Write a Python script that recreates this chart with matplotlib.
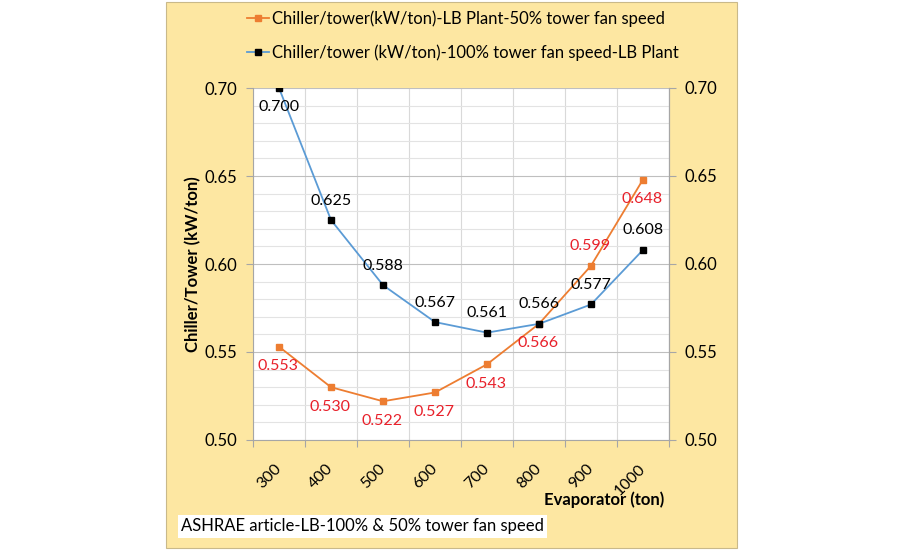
import numpy as np
import matplotlib.pyplot as plt
from matplotlib.patches import Rectangle
from matplotlib.lines import Line2D

plt.rcParams['font.family'] = ['Lato', 'DejaVu Sans']

# --- data ---
evap_tons = ['300', '400', '500', '600', '700', '800', '900', '1000']
kw_50 = [0.553, 0.530, 0.522, 0.527, 0.543, 0.566, 0.599, 0.648]
kw_100 = [0.700, 0.625, 0.588, 0.567, 0.561, 0.566, 0.577, 0.608]
name_50 = 'Chiller/tower(kW/ton)-LB Plant-50% tower fan speed'
name_100 = 'Chiller/tower (kW/ton)-100% tower fan speed-LB Plant'

orange = '#ED7D31'
blue = '#5B9BD5'
red_lbl = '#E8202A'

fig = plt.figure(figsize=(9, 5.5), dpi=100)
fig.patch.set_facecolor('white')

# yellow chart background block
fig.patches.append(Rectangle((166 / 900, 2 / 550), 571 / 900, 546 / 550,
                             transform=fig.transFigure, facecolor='#FDE7A2',
                             edgecolor='#C9B98A', linewidth=0.8, zorder=-10))

ax = fig.add_axes([253 / 900, 0.2, 416 / 900, 0.64])
ax.set_facecolor('white')
x = np.arange(len(evap_tons))

ax.plot(x, kw_50, color=orange, lw=1.3, marker='s', ms=4.5, mfc=orange, mec=orange, zorder=3)
ax.plot(x, kw_100, color=blue, lw=1.3, marker='s', ms=5, mfc='black', mec='black', zorder=3)

# orange labels sit below the points (0.599 goes above), black ones above (0.700 below)
for i, (xi, v) in enumerate(zip(x, kw_50)):
    dy = 14 if i == 6 else -14
    ax.annotate(f'{v:.3f}', (xi, v), xytext=(-1, dy), textcoords='offset points',
                ha='center', va='center', color=red_lbl, fontsize=11.5)
for i, (xi, v) in enumerate(zip(x, kw_100)):
    dy = -14 if i == 0 else 14
    ax.annotate(f'{v:.3f}', (xi, v), xytext=(0, dy), textcoords='offset points',
                ha='center', va='center', color='black', fontsize=11.5)

ax.set_xlim(-0.5, len(evap_tons) - 0.5)
ax.set_ylim(0.50, 0.70)

# x: boundary ticks for grid, centre ticks for labels
ax.set_xticks(np.arange(-0.5, len(evap_tons), 1.0))
ax.set_xticklabels([])
ax.set_xticks(x, minor=True)
ax.set_xticklabels(evap_tons, minor=True, rotation=45, ha='right', va='center',
                   rotation_mode='anchor', fontsize=11.5)
ax.tick_params(axis='x', which='major', length=5, color='#A6A6A6')
ax.tick_params(axis='x', which='minor', length=0, pad=19)

yt = [0.50, 0.55, 0.60, 0.65, 0.70]
ax.set_yticks(yt)
ax.set_yticklabels([f'{v:.2f}' for v in yt], fontsize=12)
ax.set_yticks(np.arange(0.50, 0.7001, 0.01), minor=True)
ax.tick_params(axis='y', which='major', length=5, color='#A6A6A6', pad=6)
ax.tick_params(axis='y', which='minor', length=0)

ax.grid(True, axis='y', which='major', color='#BFBFBF', lw=0.8)
ax.grid(True, axis='y', which='minor', color='#E3E3E3', lw=0.8)
ax.grid(True, axis='x', which='major', color='#D9D9D9', lw=0.8)
ax.set_axisbelow(True)

ax.spines['top'].set_visible(False)
for s in ['left', 'right', 'bottom']:
    ax.spines[s].set_color('#A6A6A6')

ax2 = ax.twinx()
ax2.set_ylim(0.50, 0.70)
ax2.set_yticks(yt)
ax2.set_yticklabels([f'{v:.2f}' for v in yt], fontsize=12)
ax2.tick_params(axis='y', length=5, color='#A6A6A6', pad=6)
for s in ['top', 'left', 'bottom']:
    ax2.spines[s].set_visible(False)
ax2.spines['right'].set_color('#A6A6A6')

fig.text(193 / 900, 0.52, 'Chiller/Tower (kW/ton)', rotation=90, ha='center', va='center',
         fontsize=12, fontweight='bold')
fig.text(664 / 900, 1 - 500 / 550, 'Evaporator (ton)', ha='right', va='center',
         fontsize=12, fontweight='bold')
fig.text(181 / 900, 1 - 526 / 550, 'ASHRAE article-LB-100% & 50% tower fan speed',
         ha='left', va='center', fontsize=12,
         bbox=dict(facecolor='white', edgecolor='none', pad=2.5))

handles = [Line2D([], [], color=orange, lw=1.3, marker='s', ms=4.5, mfc=orange, mec=orange),
           Line2D([], [], color=blue, lw=1.3, marker='s', ms=5, mfc='black', mec='black')]
fig.legend(handles, [name_50, name_100], loc='upper left', bbox_to_anchor=(232 / 900, 1 + 5 / 550),
           frameon=False, fontsize=12, handlelength=1.3, handletextpad=0.2, labelspacing=1.05)

fig.savefig('out.png', dpi=100)
